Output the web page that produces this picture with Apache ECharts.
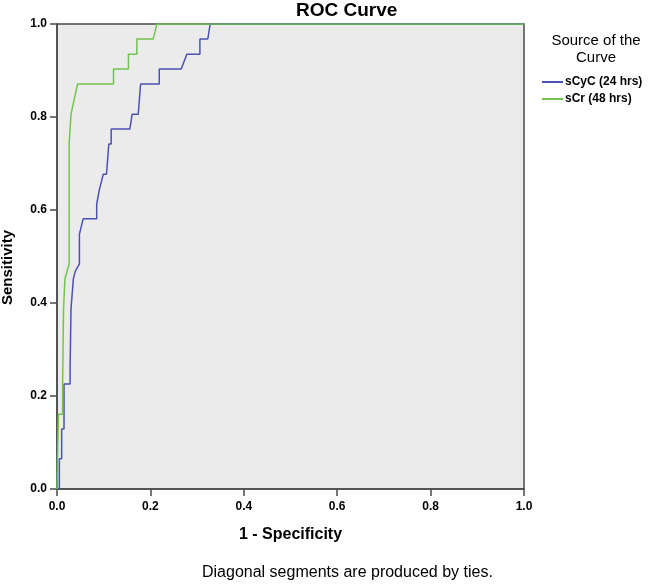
<!DOCTYPE html>
<html>
<head>
<meta charset="utf-8">
<script src="https://cdn.jsdelivr.net/npm/echarts@6/dist/echarts.min.js"></script>
<style>html,body{margin:0;padding:0;background:#fff;}#c{width:653px;height:585px;}</style>
</head>
<body>
<div id="c"></div>
<script>
const axisTicks = [0, 0.2, 0.4, 0.6, 0.8, 1.0];
const seriesNames = ['sCyC (24 hrs)', 'sCr (48 hrs)'];
const sCyC_fpr = [0, 0.005, 0.005, 0.010, 0.010, 0.015, 0.015, 0.028, 0.028, 0.030, 0.030, 0.035, 0.039, 0.048, 0.048, 0.056, 0.085, 0.085, 0.091, 0.099, 0.106, 0.111, 0.116, 0.116, 0.156, 0.161, 0.174, 0.179, 0.219, 0.219, 0.266, 0.278, 0.306, 0.306, 0.323, 0.328, 1];
const sCyC_tpr = [0, 0, 0.065, 0.065, 0.129, 0.129, 0.226, 0.226, 0.258, 0.258, 0.387, 0.452, 0.468, 0.484, 0.548, 0.581, 0.581, 0.613, 0.645, 0.677, 0.677, 0.742, 0.742, 0.774, 0.774, 0.806, 0.806, 0.871, 0.871, 0.903, 0.903, 0.935, 0.935, 0.968, 0.968, 1, 1];
const sCr_fpr = [0, 0.003, 0.003, 0.012, 0.012, 0.014, 0.014, 0.017, 0.017, 0.026, 0.026, 0.030, 0.044, 0.121, 0.121, 0.153, 0.153, 0.171, 0.171, 0.206, 0.214, 1];
const sCr_tpr = [0, 0, 0.161, 0.161, 0.226, 0.226, 0.387, 0.387, 0.452, 0.484, 0.742, 0.806, 0.871, 0.871, 0.903, 0.903, 0.935, 0.935, 0.968, 0.968, 1, 1];

const zip = (xs, ys) => xs.map((x, i) => [x, ys[i]]);
const FONT = "Arial, 'Liberation Sans', sans-serif";
const frame = '#4a4a4a';

const axisCommon = {
  type: 'value', min: 0, max: 1, interval: 0.2,
  axisLine: { show: true, lineStyle: { color: frame, width: 1.5 } },
  axisTick: { show: true, inside: false, length: 7, lineStyle: { color: frame, width: 1.5 } },
  splitLine: { show: false },
  axisLabel: { color: '#000', fontFamily: FONT, fontWeight: 'bold', fontSize: 12, margin: 10, formatter: v => v.toFixed(1) },
  nameLocation: 'middle'
};

const chart = echarts.init(document.getElementById('c'), null, { renderer: 'canvas' });
chart.setOption({
  animation: false,
  backgroundColor: '#fff',
  title: {
    text: 'ROC Curve', left: 296, top: 1, padding: 0,
    textStyle: { color: '#000', fontFamily: FONT, fontWeight: 'bold', fontSize: 19 }
  },
  grid: {
    left: 57, right: 129, top: 24, bottom: 96,
    containLabel: false, outerBoundsMode: 'none',
    show: true, backgroundColor: '#EBEBEB', borderColor: frame, borderWidth: 1.5
  },
  xAxis: Object.assign({}, axisCommon, {
    name: '1 - Specificity', nameGap: 38,
    axisLabel: Object.assign({}, axisCommon.axisLabel, { margin: 12 }),
    nameTextStyle: { color: '#000', fontFamily: FONT, fontWeight: 'bold', fontSize: 16 }
  }),
  yAxis: Object.assign({}, axisCommon, {
    name: 'Sensitivity', nameGap: 42,
    nameTextStyle: { color: '#000', fontFamily: FONT, fontWeight: 'bold', fontSize: 15, padding: [0, 22, 0, 0] }
  }),
  legend: {
    orient: 'vertical', left: 542, top: 75, itemWidth: 21, itemHeight: 2, itemGap: 3,
    padding: 0, icon: 'rect',
    data: seriesNames,
    textStyle: { color: '#000', fontFamily: FONT, fontWeight: 'bold', fontSize: 12, padding: [0, 0, 0, -3], lineHeight: 14 }
  },
  graphic: [
    { type: 'text', x: 596, y: 32,
      style: { text: 'Source of the\nCurve', align: 'center', verticalAlign: 'top', lineHeight: 17,
               font: '15px ' + FONT, fill: '#000' } },
    { type: 'text', x: 202, y: 573,
      style: { text: 'Diagonal segments are produced by ties.', align: 'left', verticalAlign: 'middle',
               font: '16px ' + FONT, fill: '#000' } }
  ],
  series: [
    { name: seriesNames[0], type: 'line', data: zip(sCyC_fpr, sCyC_tpr), symbol: 'none',
      lineStyle: { color: '#4B52B3', width: 1.5 }, itemStyle: { color: '#4B52B3' } },
    { name: seriesNames[1], type: 'line', data: zip(sCr_fpr, sCr_tpr), symbol: 'none',
      lineStyle: { color: '#72C44E', width: 1.5 }, itemStyle: { color: '#72C44E' } }
  ]
});
</script>
</body>
</html>
